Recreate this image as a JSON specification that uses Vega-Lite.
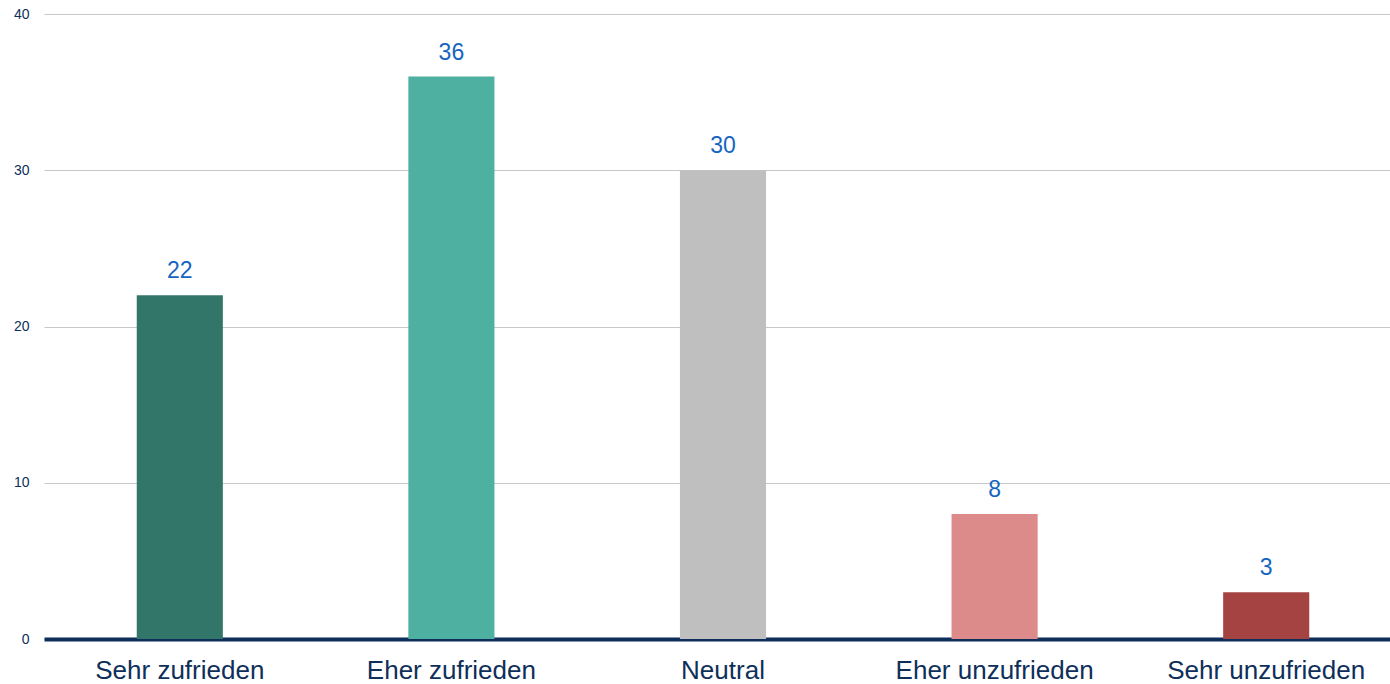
{
  "$schema": "https://vega.github.io/schema/vega-lite/v6.json",
  "autosize": "none",
  "width": 1358,
  "height": 625,
  "padding": {"left": 44, "top": 14, "right": 0, "bottom": 45},
  "background": "white",
  "config": {"view": {"stroke": null}, "font": "Liberation Sans"},
  "data": {"values": [
    {"kategorie": "Sehr zufrieden", "wert": 22, "farbe": "#32766a"},
    {"kategorie": "Eher zufrieden", "wert": 36, "farbe": "#4db0a0"},
    {"kategorie": "Neutral", "wert": 30, "farbe": "#bfbfbf"},
    {"kategorie": "Eher unzufrieden", "wert": 8, "farbe": "#dc8a8a"},
    {"kategorie": "Sehr unzufrieden", "wert": 3, "farbe": "#a54343"}
  ]},
  "encoding": {
    "x": {
      "field": "kategorie", "type": "nominal", "sort": null,
      "scale": {"paddingInner": 0.683, "paddingOuter": 0.3415},
      "axis": {
        "title": null, "labelAngle": 0, "ticks": false, "labelLimit": 0,
        "labelFontSize": 26, "labelColor": "#0e2f5a", "labelPadding": 18,
        "domainColor": "#0d2d5a", "domainWidth": 4, "labelFont": "Liberation Sans"
      }
    },
    "y": {
      "field": "wert", "type": "quantitative",
      "scale": {"domain": [0, 40]},
      "axis": {
        "title": null, "values": [0, 10, 20, 30, 40], "ticks": false, "domain": false,
        "labelFontSize": 14, "labelColor": "#0e2f5a", "labelPadding": 15,
        "gridColor": "#c8c8c8", "gridWidth": 1, "labelFont": "Liberation Sans"
      }
    }
  },
  "layer": [
    {
      "mark": {"type": "bar"},
      "encoding": {"color": {"field": "farbe", "type": "nominal", "scale": null, "legend": null}}
    },
    {
      "mark": {"type": "text", "baseline": "bottom", "dy": -12, "fontSize": 23, "color": "#1565c0", "font": "Liberation Sans"},
      "encoding": {"text": {"field": "wert", "type": "quantitative"}}
    }
  ]
}
